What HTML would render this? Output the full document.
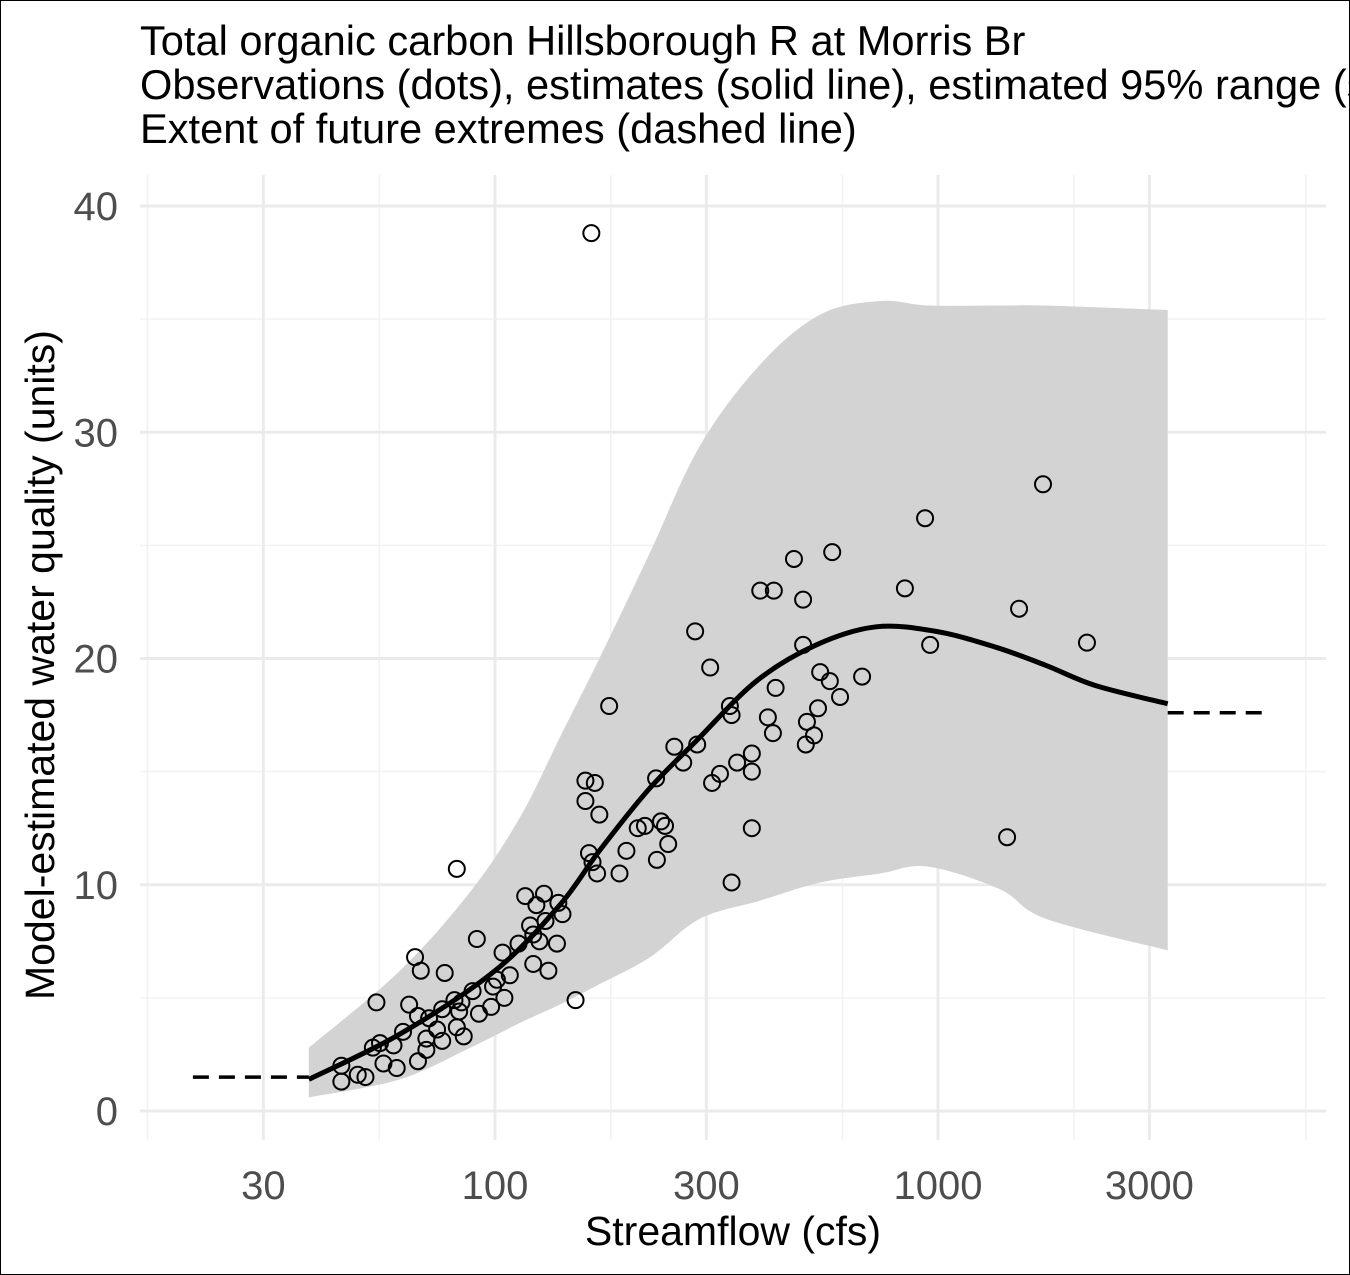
<!DOCTYPE html>
<html><head><meta charset="utf-8"><style>
body{margin:0;background:#fff}
svg{display:block;font-family:"Liberation Sans",Arial,sans-serif}
</style></head><body>
<svg id="chart" width="1350" height="1275" viewBox="0 0 1350 1275">
<rect x="0.5" y="0.5" width="1349" height="1274" fill="#fff" stroke="#000"/>
<g id="grid"></g>
<g id="band"></g>
<g id="lines"></g>
<g id="pts"></g>
<g id="axes" font-size="40" fill="#4d4d4d"></g>
<g font-size="41.6" fill="#000">
<text x="140" y="55">Total organic carbon Hillsborough R at Morris Br</text>
<text x="140" y="99">Observations (dots), estimates (solid line), estimated 95% range (shading)</text>
<text x="140" y="143">Extent of future extremes (dashed line)</text>
</g>
<text x="733" y="1245" text-anchor="middle" font-size="41">Streamflow (cfs)</text>
<text transform="translate(54,665) rotate(-90)" text-anchor="middle" font-size="41">Model-estimated water quality (units)</text>
</svg>
<script>
const xTicks=[30,100,300,1000,3000];
const yTicks=[0,10,20,30,40];
const curveQ=[38,61,100,140,172,222,286,389,531,725,990,1350,1750,2270,3300];
const curveV=[1.4,3.4,6.2,9.1,11.5,14.2,16.4,19.0,20.6,21.4,21.2,20.5,19.7,18.8,18.0];
const bandQ=[38,61,88,114,140,172,224,290,397,542,740,950,1380,1750,3300];
const bandHi=[2.8,6.2,9.7,13.0,16.5,20.0,24.7,29.4,33.0,35.2,35.8,35.6,35.6,35.6,35.4];
const bandLo=[0.6,1.4,2.8,3.9,4.7,5.6,6.8,8.5,9.3,10.1,10.5,10.8,9.8,8.5,7.1];
const extLow=[20.8,38,1.5];
const extHigh=[3300,5500,17.6];
const obsQ=[165,1726,935,577,473,397,426,842,496,1524,283,2169,496,960,306,542,570,674,601,181,339,430,536,413,506,342,525,424,503,254,286,380,266,352,380,322,309,160,168,231,160,172,237,242,218,210,380,246,198,232,163,166,1432,191,170,342,82,117,129,124,139,142,130,120,122,113,126,138,91,104,122,132,108,101,105,99,98,89,66,68,77,81,84,83,92,85,76,64,54,67,71,74,76,82,70,62,59,55,53,56,60,67,70,45,45,49,51,152];
const obsV=[38.8,27.7,26.2,24.7,24.4,23.0,23.0,23.1,22.6,22.2,21.2,20.7,20.6,20.6,19.6,19.4,19.0,19.2,18.3,17.9,17.9,18.7,17.8,17.4,17.2,17.5,16.6,16.7,16.2,16.1,16.2,15.8,15.4,15.4,15.0,14.9,14.5,14.6,14.5,14.7,13.7,13.1,12.8,12.6,12.6,12.5,12.5,11.8,11.5,11.1,11.4,11.0,12.1,10.5,10.5,10.1,10.7,9.5,9.6,9.1,9.2,8.7,8.4,8.2,7.8,7.4,7.5,7.4,7.6,7.0,6.5,6.2,6.0,5.8,5.0,5.5,4.6,5.3,6.8,6.2,6.1,4.9,4.8,4.4,4.3,3.3,4.5,4.7,4.8,4.2,4.1,3.6,3.1,3.7,3.2,3.5,2.9,3.0,2.8,2.1,1.9,2.2,2.7,2.0,1.3,1.6,1.5,4.9];

const NS='http://www.w3.org/2000/svg';
const X=q=>495+443*Math.log10(q/100);
const Y=v=>1111-22.625*v;
const L=140,R=1326,T=175,B=1140;
function mk(tag,parent,attrs){const e=document.createElementNS(NS,tag);for(const k in attrs)e.setAttribute(k,attrs[k]);document.getElementById(parent).appendChild(e);return e;}
function smooth(pts,move){
  let d=move?'M'+pts[0][0]+','+pts[0][1]:'L'+pts[0][0]+','+pts[0][1];
  for(let i=0;i<pts.length-1;i++){
    const p0=pts[Math.max(0,i-1)],p1=pts[i],p2=pts[i+1],p3=pts[Math.min(pts.length-1,i+2)];
    const c1=[p1[0]+(p2[0]-p0[0])/6,p1[1]+(p2[1]-p0[1])/6];
    const c2=[p2[0]-(p3[0]-p1[0])/6,p2[1]-(p3[1]-p1[1])/6];
    d+='C'+c1[0]+','+c1[1]+' '+c2[0]+','+c2[1]+' '+p2[0]+','+p2[1];
  }
  return d;
}

// grid
const lx=Math.log10(xTicks[0]), step=Math.log10(xTicks[1])-lx;
for(let i=-1;i<xTicks.length;i++){
  const mq=Math.pow(10,lx+step*i+step/2);
  if(X(mq)>L&&X(mq)<R){const g=mk('line','grid',{x1:X(mq),x2:X(mq),y1:T,y2:B,stroke:'#f2f2f2','stroke-width':1.5});
  }
}
for(let i=0;i<yTicks.length;i++){
  const m=yTicks[i]+5;
  if(Y(m)>T){const g=mk('line','grid',{x1:L,x2:R,y1:Y(m),y2:Y(m),stroke:'#f2f2f2','stroke-width':1.5});
  }
}
xTicks.forEach(t=>{
  const g=mk('line','grid',{x1:X(t),x2:X(t),y1:T,y2:B,stroke:'#ebebeb','stroke-width':3});
  
  const tx=mk('text','axes',{x:X(t),y:1199,'text-anchor':'middle'});tx.textContent=t;
  
});
yTicks.forEach(t=>{
  const g=mk('line','grid',{x1:L,x2:R,y1:Y(t),y2:Y(t),stroke:'#ebebeb','stroke-width':3});
  
  const tx=mk('text','axes',{x:118,y:Y(t)+14,'text-anchor':'end'});tx.textContent=t;
  
});

// band
const hiPts=bandQ.map((q,i)=>[X(q),Y(bandHi[i])]);
const loPts=bandQ.map((q,i)=>[X(q),Y(bandLo[i])]).reverse();
const band=mk('path','band',{d:smooth(hiPts,true)+smooth(loPts,false)+'Z',fill:'#d3d3d3'});


// curve
const cPts=curveQ.map((q,i)=>[X(q),Y(curveV[i])]);
const cl=mk('path','lines',{d:smooth(cPts,true),fill:'none',stroke:'#000','stroke-width':5,'stroke-linejoin':'round'});

const e1=mk('line','lines',{x1:X(extLow[0]),x2:X(extLow[1]),y1:Y(extLow[2]),y2:Y(extLow[2]),stroke:'#000','stroke-width':3.5,'stroke-dasharray':'16,10'});

const e2=mk('line','lines',{x1:X(extHigh[0]),x2:X(extHigh[1]),y1:Y(extHigh[2]),y2:Y(extHigh[2]),stroke:'#000','stroke-width':3.5,'stroke-dasharray':'16,10'});


// points
obsQ.forEach((q,i)=>{
  const p=mk('circle','pts',{cx:X(q),cy:Y(obsV[i]),r:8,fill:'none',stroke:'#000','stroke-width':2});
  
});
</script>
</body></html>
